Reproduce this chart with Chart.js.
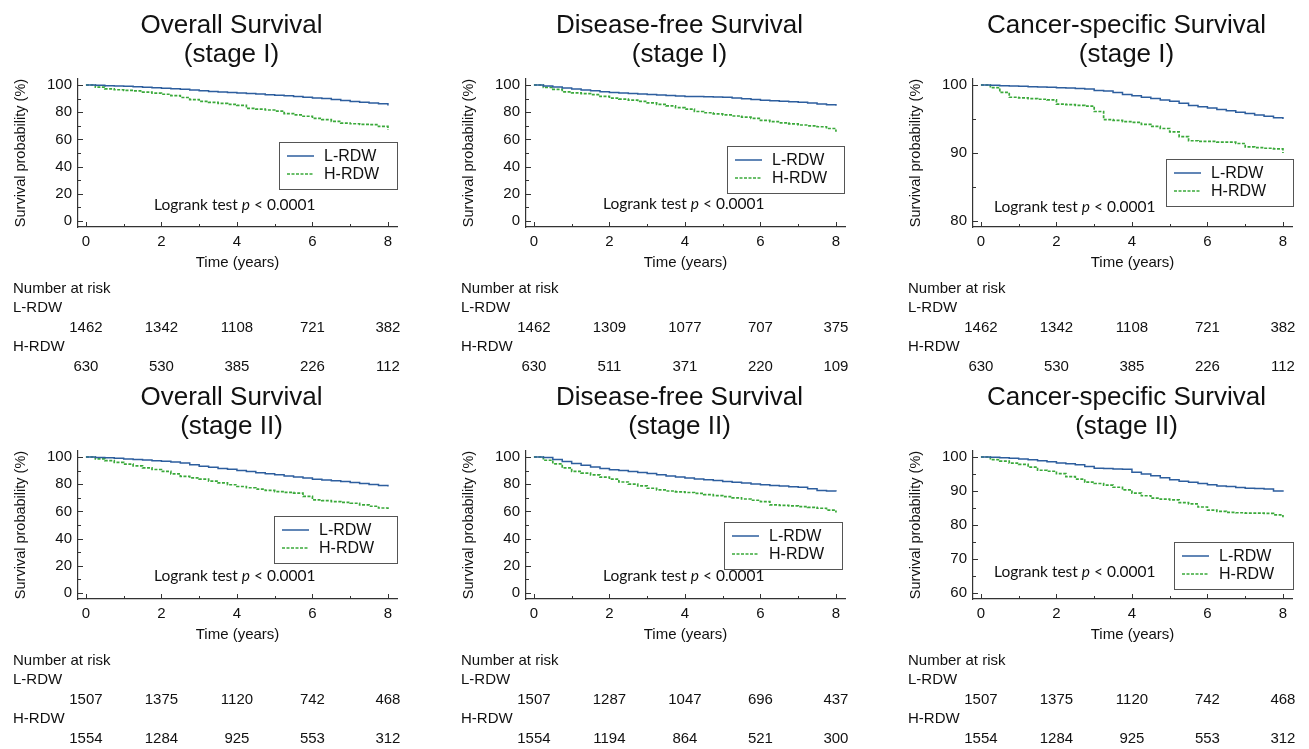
<!DOCTYPE html>
<html>
<head>
<meta charset="utf-8">
<script src="https://cdn.jsdelivr.net/npm/chart.js@4.4.0/dist/chart.umd.min.js"></script>
<style>
  html, body { margin: 0; padding: 0; background: #fff; overflow: hidden; }
  body { width: 1309px; height: 749px; position: relative; }
  canvas { position: absolute; }
</style>
</head>
<body>
<canvas id="c0" width="412" height="380" style="left:0px;top:0px"></canvas>
<canvas id="c1" width="412" height="380" style="left:448px;top:0px"></canvas>
<canvas id="c2" width="412" height="380" style="left:895px;top:0px"></canvas>
<canvas id="c3" width="412" height="380" style="left:0px;top:372px"></canvas>
<canvas id="c4" width="412" height="380" style="left:448px;top:372px"></canvas>
<canvas id="c5" width="412" height="380" style="left:895px;top:372px"></canvas>
<script>
// time grid (years) the curves were read at
const years = [0, 0.25, 0.5, 0.75, 1, 1.25, 1.5, 1.75, 2, 2.25, 2.5, 2.75, 3, 3.25, 3.5, 3.75, 4,
  4.25, 4.5, 4.75, 5, 5.25, 5.5, 5.75, 6, 6.25, 6.5, 6.75, 7, 7.25, 7.5, 7.75, 8];
const riskYears = [0, 2, 4, 6, 8];
const xTickValues = [0, 2, 4, 6, 8];
const groups = ["L-RDW", "H-RDW"];

const titles = [
  ["Overall Survival", "(stage I)"],
  ["Disease-free Survival", "(stage I)"],
  ["Cancer-specific Survival", "(stage I)"],
  ["Overall Survival", "(stage II)"],
  ["Disease-free Survival", "(stage II)"],
  ["Cancer-specific Survival", "(stage II)"]
];

// survival probability (%)
const osStage1Low = [100, 99.8, 99.5, 99.2, 99, 98.7, 98.4, 98, 97.6, 97.2, 96.8, 96.3, 95.8, 95.3, 94.9, 94.5, 94.1,
  93.7, 93.3, 92.9, 92.5, 92, 91.5, 91, 90.5, 90, 89.3, 88.6, 87.9, 87.3, 86.8, 86.2, 85];
const osStage1High = [100, 98.5, 97.2, 96.5, 96, 95.6, 94.8, 94, 93.2, 92.2, 90.8, 89.3, 88, 87.2, 86.5, 85.8, 85,
  82.8, 82.2, 81.6, 80.8, 79, 78, 77, 75.5, 74.5, 73.2, 72, 71.5, 71, 70.8, 69.5, 67];
const dfsStage1Low = [100, 99.3, 98.6, 97.8, 97, 96.4, 95.8, 95.1, 94.5, 94.1, 93.7, 93.3, 93, 92.6, 92.3, 91.9, 91.6,
  91.5, 91.3, 91.2, 91, 90.4, 89.8, 89.3, 88.7, 88.4, 88, 87.7, 87.3, 86.7, 86, 85.4, 84.7];
const dfsStage1High = [100, 98.2, 96.8, 95, 94.2, 93.6, 92.9, 91.6, 90.4, 89.6, 88.8, 87.9, 86.8, 85.7, 84.6, 83.3, 82.2,
  80.5, 79.6, 78.8, 78, 77.2, 76.3, 75.5, 74, 73, 72.2, 71.4, 70.6, 70, 69.3, 68, 65.6];
const cssStage1Low = [100, 99.95, 99.9, 99.85, 99.8, 99.75, 99.7, 99.65, 99.6, 99.55, 99.5, 99.4, 99.2, 99.1, 98.9, 98.6, 98.4,
  98.2, 98, 97.8, 97.6, 97.3, 97, 96.8, 96.6, 96.4, 96.2, 96, 95.8, 95.6, 95.4, 95.2, 95];
const cssStage1High = [100, 99.6, 98.9, 98.2, 98.1, 98, 97.9, 97.8, 97.2, 97.1, 97, 96.9, 96.1, 94.9, 94.8, 94.6, 94.5,
  94.2, 93.9, 93.6, 93.1, 92.4, 91.8, 91.7, 91.7, 91.6, 91.6, 91.4, 90.9, 90.8, 90.7, 90.6, 90];
const osStage2Low = [100, 99.7, 99.4, 99, 98.5, 98.1, 97.7, 97.3, 96.8, 96.3, 95.6, 94.3, 93.1, 92.4, 91.6, 90.9, 90.1,
  89.3, 88.5, 87.7, 86.9, 86.1, 85.3, 84.5, 83.7, 83.1, 82.5, 81.9, 81.3, 80.6, 79.8, 79, 78.3];
const osStage2High = [100, 98.6, 97.3, 96, 94.8, 93.4, 92, 90.8, 89.4, 87.6, 85.7, 84.7, 83.7, 82.3, 80.9, 79.6, 78.3,
  77.4, 76.4, 75.5, 74.6, 74, 73.4, 71, 68.5, 67.9, 67.2, 66.6, 66, 64.8, 63.8, 62.5, 61.1];
const dfsStage2Low = [100, 99.6, 98.2, 96.6, 95.2, 94, 92.6, 91.5, 90.6, 90.1, 89.4, 88.6, 87.8, 87, 86.1, 85.3, 84.5,
  83.9, 83.3, 82.7, 82, 81.4, 80.8, 80.2, 79.6, 79.1, 78.7, 78.2, 77.8, 76.6, 75.4, 75, 74.6];
const dfsStage2High = [100, 97.6, 95, 92, 89.4, 88.2, 86.9, 85.2, 83.7, 81.6, 80, 78.8, 77, 75.8, 75, 74.4, 73.9,
  73.2, 72.4, 71.6, 70.9, 70, 69.1, 68.2, 67.2, 64.8, 64.4, 64, 63.5, 63, 62.3, 61, 59.1];
const cssStage2Low = [100, 99.9, 99.8, 99.6, 99.4, 99.2, 98.9, 98.6, 98.2, 98, 97.7, 97.2, 96.7, 96.6, 96.5, 96.4, 95.5,
  95, 94.5, 93.9, 93.3, 92.9, 92.6, 92.2, 91.8, 91.5, 91.3, 91, 90.8, 90.7, 90.6, 90, 89.8];
const cssStage2High = [100, 99.2, 98.8, 98.2, 97.8, 97, 96.1, 95.8, 95.1, 94.2, 93.5, 92.6, 92.2, 91.7, 91.1, 90.3, 89.4,
  88.6, 87.9, 87.6, 87.4, 86.6, 86.2, 85.3, 84.4, 84, 83.7, 83.6, 83.5, 83.5, 83.4, 83, 82.3];

// number at risk at 0, 2, 4, 6, 8 years
const riskOs1Low = [1462, 1342, 1108, 721, 382];
const riskOs1High = [630, 530, 385, 226, 112];
const riskDfs1Low = [1462, 1309, 1077, 707, 375];
const riskDfs1High = [630, 511, 371, 220, 109];
const riskCss1Low = [1462, 1342, 1108, 721, 382];
const riskCss1High = [630, 530, 385, 226, 112];
const riskOs2Low = [1507, 1375, 1120, 742, 468];
const riskOs2High = [1554, 1284, 925, 553, 312];
const riskDfs2Low = [1507, 1287, 1047, 696, 437];
const riskDfs2High = [1554, 1194, 864, 521, 300];
const riskCss2Low = [1507, 1375, 1120, 742, 468];
const riskCss2High = [1554, 1284, 925, 553, 312];

// y tick labels
const yTicksFull = [0, 20, 40, 60, 80, 100];
const yTicksCss1 = [80, 90, 100];
const yTicksCss2 = [60, 70, 80, 90, 100];

const pValueText = "Logrank test p < 0.0001";

const lowColor = "#2d5e9e";
const highColor = "#3aa93a";
const axisColor = "#333";
const textColor = "#111";
const sans = "'Liberation Sans', Arial, sans-serif";

// panel setup (axis ranges, legend box and p-value placement relative to chart area)
const panels = [
  { low: osStage1Low, high: osStage1High, riskLow: riskOs1Low, riskHigh: riskOs1High,
    yTicks: yTicksFull, yMinor: 10, yMin: -4.4, yMax: 104.4,
    legend: { dx: 201, dy: 63, w: 118 }, pText: { dx: 76, dy: 131 } },
  { low: dfsStage1Low, high: dfsStage1High, riskLow: riskDfs1Low, riskHigh: riskDfs1High,
    yTicks: yTicksFull, yMinor: 10, yMin: -4.4, yMax: 104.4,
    legend: { dx: 201, dy: 67, w: 117 }, pText: { dx: 77, dy: 130 } },
  { low: cssStage1Low, high: cssStage1High, riskLow: riskCss1Low, riskHigh: riskCss1High,
    yTicks: yTicksCss1, yMinor: 5, yMin: 79.12, yMax: 100.88,
    legend: { dx: 193, dy: 80, w: 127 }, pText: { dx: 21, dy: 133 } },
  { low: osStage2Low, high: osStage2High, riskLow: riskOs2Low, riskHigh: riskOs2High,
    yTicks: yTicksFull, yMinor: 10, yMin: -4.4, yMax: 104.4,
    legend: { dx: 196, dy: 65, w: 123 }, pText: { dx: 76, dy: 130 } },
  { low: dfsStage2Low, high: dfsStage2High, riskLow: riskDfs2Low, riskHigh: riskDfs2High,
    yTicks: yTicksFull, yMinor: 10, yMin: -4.4, yMax: 104.4,
    legend: { dx: 198, dy: 71, w: 118 }, pText: { dx: 77, dy: 130 } },
  { low: cssStage2Low, high: cssStage2High, riskLow: riskCss2Low, riskHigh: riskCss2High,
    yTicks: yTicksCss2, yMinor: 5, yMin: 58.24, yMax: 101.76,
    legend: { dx: 201, dy: 91, w: 119 }, pText: { dx: 21, dy: 126 } }
];

// draws title, inward ticks, legend box, p-value and the risk table
const kmDecor = {
  id: "kmDecor",
  afterDraw(chart, args, opts) {
    const { ctx, chartArea: a, scales: { x, y } } = chart;
    const p = opts.panel;
    ctx.save();

    // inward ticks
    ctx.strokeStyle = axisColor;
    ctx.lineWidth = 1;
    ctx.beginPath();
    for (let v = 0; v <= 8; v += 1) {
      const px = Math.round(x.getPixelForValue(v)) + 0.5;
      const len = v % 2 === 0 ? 5 : 3;
      ctx.moveTo(px, a.bottom);
      ctx.lineTo(px, a.bottom - len);
    }
    const yLo = p.yTicks[0], yHi = p.yTicks[p.yTicks.length - 1];
    for (let v = yLo; v <= yHi; v += p.yMinor) {
      const py = Math.round(y.getPixelForValue(v)) + 0.5;
      const len = p.yTicks.includes(v) ? 5 : 3;
      ctx.moveTo(a.left, py);
      ctx.lineTo(a.left + len, py);
    }
    ctx.stroke();

    // title
    const cx = (a.left + a.right) / 2 - 6;
    ctx.fillStyle = textColor;
    ctx.textAlign = "center";
    ctx.textBaseline = "alphabetic";
    ctx.font = "26px " + sans;
    ctx.fillText(opts.title[0], cx, a.top - 46);
    ctx.fillText(opts.title[1], cx, a.top - 17);

    // legend box
    const lx = a.left + p.legend.dx, ly = a.top + p.legend.dy;
    ctx.strokeStyle = "#555";
    ctx.lineWidth = 1;
    ctx.strokeRect(lx + 0.5, ly + 0.5, p.legend.w, 47);
    ctx.font = "16px " + sans;
    ctx.textAlign = "left";
    ctx.textBaseline = "middle";
    chart.data.datasets.forEach((ds, i) => {
      const rowY = ly + 14 + i * 18;
      ctx.strokeStyle = ds.borderColor;
      ctx.lineWidth = ds.borderWidth;
      ctx.setLineDash(ds.borderDash || []);
      ctx.beginPath();
      ctx.moveTo(lx + 8, rowY);
      ctx.lineTo(lx + 35, rowY);
      ctx.stroke();
      ctx.setLineDash([]);
      ctx.fillStyle = textColor;
      ctx.fillText(ds.label, lx + 45, rowY + 1);
    });

    // logrank p-value, with italic p
    const parts = pValueText.split(" p ");
    let tx = a.left + p.pText.dx;
    const ty = a.top + p.pText.dy;
    ctx.textBaseline = "alphabetic";
    ctx.fillStyle = textColor;
    ctx.font = "15.5px Lato, sans-serif";
    ctx.fillText(parts[0] + " ", tx, ty);
    tx += ctx.measureText(parts[0] + " ").width;
    ctx.font = "italic 15.5px Lato, sans-serif";
    ctx.fillText("p", tx, ty);
    tx += ctx.measureText("p").width;
    ctx.font = "15.5px Lato, sans-serif";
    ctx.fillText(" " + parts[1], tx, ty);

    // number at risk
    ctx.font = "15px " + sans;
    ctx.fillStyle = textColor;
    ctx.textAlign = "left";
    const rx = a.left - 65;
    ctx.fillText("Number at risk", rx, a.bottom + 66);
    ctx.fillText(groups[0], rx, a.bottom + 85);
    ctx.fillText(groups[1], rx, a.bottom + 124);
    ctx.textAlign = "center";
    riskYears.forEach((t, i) => {
      const px = x.getPixelForValue(t);
      ctx.fillText(String(p.riskLow[i]), px, a.bottom + 105);
      ctx.fillText(String(p.riskHigh[i]), px, a.bottom + 144);
    });
    ctx.restore();
  }
};

function makeChart(idx) {
  const p = panels[idx];
  new Chart(document.getElementById("c" + idx), {
    type: "line",
    data: {
      datasets: [
        {
          label: groups[0],
          data: years.map((t, i) => ({ x: t, y: p.low[i] })),
          borderColor: lowColor,
          borderWidth: 1.5,
          pointRadius: 0,
          stepped: true,
          fill: false
        },
        {
          label: groups[1],
          data: years.map((t, i) => ({ x: t, y: p.high[i] })),
          borderColor: highColor,
          borderWidth: 1.7,
          borderDash: [3, 1.5],
          pointRadius: 0,
          stepped: true,
          fill: false
        }
      ]
    },
    options: {
      responsive: false,
      animation: false,
      devicePixelRatio: 1,
      layout: { padding: { left: 12, top: 79, right: 15, bottom: 108 } },
      plugins: {
        legend: { display: false },
        tooltip: { enabled: false },
        kmDecor: { panel: p, title: titles[idx] }
      },
      scales: {
        x: {
          type: "linear",
          min: -0.21,
          max: 8.24,
          afterFit: (scale) => { scale.height = 45; },
          afterBuildTicks: (scale) => { scale.ticks = xTickValues.map((v) => ({ value: v })); },
          grid: { display: false, drawTicks: false },
          border: { display: true, color: axisColor, width: 1.2 },
          ticks: { padding: 6, color: textColor, font: { family: sans, size: 15 } },
          title: { display: true, text: "Time (years)", color: textColor, padding: 0, font: { family: sans, size: 15 } }
        },
        y: {
          min: p.yMin,
          max: p.yMax,
          afterFit: (scale) => { scale.width = 66; },
          afterBuildTicks: (scale) => { scale.ticks = p.yTicks.map((v) => ({ value: v })); },
          grid: { display: false, drawTicks: false },
          border: { display: true, color: axisColor, width: 1.2 },
          ticks: { padding: 6, color: textColor, font: { family: sans, size: 15 } },
          title: { display: true, text: "Survival probability (%)", color: textColor, padding: 0, font: { family: sans, size: 14.5 } }
        }
      }
    },
    plugins: [kmDecor]
  });
}

panels.forEach((p, i) => makeChart(i));
</script>
</body>
</html>
